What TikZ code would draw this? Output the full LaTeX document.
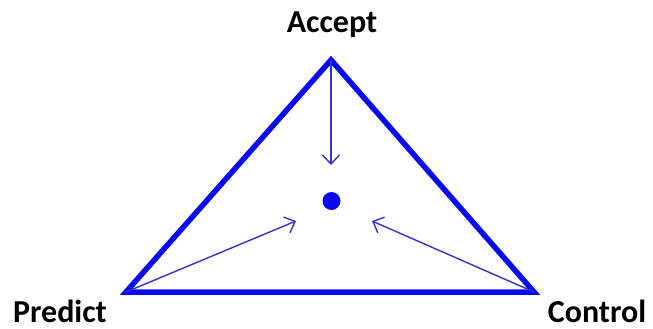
\documentclass[tikz,border=0pt]{standalone}
\usepackage{fontspec}
\setmainfont{Carlito}
\usetikzlibrary{arrows.meta}
\definecolor{triblue}{RGB}{10,10,240}
\definecolor{arrblue}{RGB}{50,50,210}
\tikzset{
  lbl/.style={font=\bfseries\fontsize{32}{38}\selectfont, anchor=base, inner sep=0pt, text=black},
  edge/.style={draw=triblue, line width=5.5pt, line join=miter},
  ptr/.style={draw=arrblue, line width=1.4pt, -{Straight Barb[length=9pt, width=17pt, line width=1.4pt]}},
}
\begin{document}
\begin{tikzpicture}[x=1pt,y=-1pt]
\useasboundingbox (0,0) rectangle (653,329);
\coordinate (A) at (331,60);
\coordinate (P) at (126,292);
\coordinate (C) at (534,292);
\draw[edge] (A) -- (P) -- (C) -- cycle;
\fill[triblue] (331.5,201) circle (9);
\coordinate (ta) at (331,165);
\coordinate (tp) at (296,221);
\coordinate (tc) at (372,221);
\draw[ptr] (A) -- (ta);
\draw[ptr] (P) -- (tp);
\draw[ptr] (C) -- (tc);
\node[lbl] (accept) at (332,33) {Accept};
\node[lbl] (predict) at (60,322) {Predict};
\node[lbl] (control) at (597,322) {Control};
\end{tikzpicture}
\end{document}
